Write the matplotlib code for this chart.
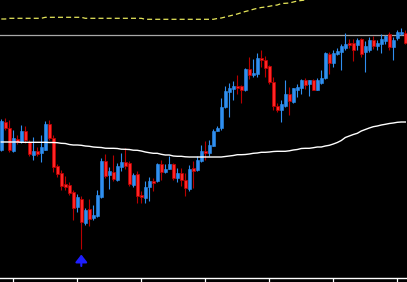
import numpy as np
import matplotlib
matplotlib.use("Agg")
import matplotlib.pyplot as plt

# price bars (arbitrary price units), one per bar, oldest first
opens = [130, 158, 152, 129, 141, 138, 149, 138, 125, 129.5,
         127, 130.5, 156, 142.5, 114, 107.5, 96, 95, 88, 73,
         81.5, 57.5, 71, 62, 64, 83, 119, 105, 108, 100,
         113.5, 118, 117, 95.5, 106, 85.5, 82, 93.5, 99.5, 99,
         116, 108.5, 111.5, 116, 102, 107, 100, 91, 112.5, 110.5,
         119, 129.5, 127, 134.5, 149.5, 152, 173, 188, 191, 194,
         194, 190, 211, 205.5, 206, 222.5, 220, 214.5, 198, 174,
         170, 174, 186, 178, 190.5, 192.5, 200.5, 196.5, 200, 190.5,
         197.5, 202.5, 226.5, 217.5, 226, 228, 232.5, 237, 237, 235.5,
         241.5, 228.5, 230.5, 240.5, 234.5, 236.5, 239.5, 246.5, 233.5, 242.5,
         246, 247.5]
highs = [161, 162, 160, 150, 145, 155, 154, 140, 143, 133,
         145, 159, 160, 145, 116, 110.5, 104, 98, 90, 86,
         84, 72, 81, 75, 90, 122, 126, 113, 125, 117.5,
         127, 132, 119, 107.5, 109, 89, 99, 103, 102, 117,
         120.5, 116, 124.5, 117, 112.5, 112.5, 107, 115, 119, 124.5,
         135, 139, 140, 151, 154, 182, 194, 197, 199.5, 205,
         195.5, 212, 223.5, 221, 227.5, 230, 224, 215.5, 203, 177,
         180, 200.5, 193, 192.5, 196.5, 201.5, 202, 200.5, 201.5, 202,
         210.5, 228.5, 228, 230.5, 232.5, 236, 247, 241.5, 241, 242.5,
         242.5, 239.5, 243.5, 244, 240, 246.5, 245.5, 248.5, 243.5, 250,
         252, 250.5]
lows = [129, 150, 128, 128, 136, 137, 137, 124, 120, 124,
        118, 130, 140, 108, 103, 90, 90, 85, 60.5, 68,
        31, 55.5, 54, 60, 63, 82, 102, 91.5, 99, 99,
        109, 111, 94, 93, 77, 77, 77, 79, 89, 98,
        100.5, 107, 111, 100, 98.5, 94.5, 84.5, 89, 92.5, 109,
        118, 120, 124.5, 134, 149, 150, 172, 163, 180, 186,
        177.5, 189, 201, 203, 203, 213.5, 203, 196.5, 170, 168,
        158.5, 173, 165, 177, 183.5, 186.5, 191.5, 184.5, 190, 190,
        196.5, 201.5, 206, 213.5, 225, 210, 230, 232, 219.5, 230,
        223.5, 208, 228.5, 231.5, 230, 227, 236.5, 230, 220, 240,
        245, 236]
closes = [159, 152, 130, 142, 138, 149, 140, 126, 129.5, 126,
          133, 156, 142.5, 113, 106.5, 94.5, 93, 87, 72.5, 83,
          58, 70.5, 61.5, 65, 85, 119.5, 104.5, 109.5, 101, 114,
          118, 114.5, 96.5, 105.5, 84.5, 83.5, 93.5, 99, 97.5, 116,
          108.5, 111, 116, 102.5, 107, 100.5, 92.5, 111, 109.5, 120.5,
          129.5, 127, 135, 149, 152, 173, 189, 192.5, 194, 192,
          190, 211, 205.5, 207.5, 222.5, 220.5, 212, 198, 174, 170,
          176, 186.5, 179.5, 192, 193.5, 200, 195.5, 200, 190.5, 200,
          202.5, 227.5, 217.5, 227.5, 229, 234, 236.5, 235.5, 230, 240.5,
          226, 234, 240, 234.5, 237.5, 241.5, 244, 233.5, 240.5, 248.5,
          248.5, 237]

# long moving average (white) and upper envelope (yellow dashed)
ma_long = [138, 138, 138, 138, 138, 137.7, 137.7, 137.7, 137.7, 137.7,
           137.7, 137.7, 137.5, 137.5, 137.3, 136.7, 136.5, 135.5, 135, 135,
           134.7, 134, 133.7, 133, 132.7, 132.5, 131.8, 131.7, 131.7, 131.5,
           130.8, 130.7, 130.5, 129.8, 129.7, 129, 128, 127.3, 126.7, 126.7,
           125.7, 125, 125, 124, 123.7, 123.7, 123.2, 123, 123, 123,
           123, 123, 123, 123, 123, 123, 123.5, 124, 124.5, 125.3,
           125.3, 125.5, 126, 126.7, 127, 127.7, 127.7, 128, 128.5, 128.7,
           128.7, 128.7, 129.2, 130, 130.5, 131.5, 131.7, 131.7, 132.3, 133,
           133, 134, 134.7, 136, 137.5, 139.5, 142.5, 144, 145.5, 146.7,
           149, 150.5, 152, 153.3, 154, 155, 155.7, 156.5, 157, 157.7,
           158, 158]
upper_band = [261, 261, 261.7, 261.7, 261.7, 261.7, 261.7, 261.7, 261.7, 261.7,
              261.7, 262.7, 262.7, 262.7, 262.7, 262.7, 262.7, 262.7, 262.7, 262.7,
              262.7, 261.7, 261.7, 261.7, 261.7, 261.7, 261.7, 261.7, 261.7, 261.7,
              261.7, 261.7, 261.7, 261.7, 261.7, 261.7, 260.7, 260.7, 260.7, 260.7,
              260.7, 260.7, 260.7, 260.7, 260.7, 260.7, 260.7, 260.7, 260.7, 260.7,
              260.7, 260.7, 260.7, 260.7, 261.5, 262, 263, 264, 265, 266,
              267.3, 268.5, 269.5, 270.7, 271.7, 272.5, 273, 273.7, 274.5, 275,
              276.5, 276.7, 277, 278, 279, 279.5, 280, 281, 282, 282.5,
              283.5, 284, 285, 286, 286.5, 287, 288, 289, 289.5, 290,
              291, 292, 292.5, 293, 294, 295, 295.5, 296, 297, 298,
              298.5, 299]
level = 245
signal_bar = 20
tick_bars = [3, 19, 35, 51, 67, 83, 99]

BG = "black"
UP = "#2f8ff0"
DOWN_FILL = "#ff2626"
DOWN_EDGE = "#b80000"

opens = np.array(opens)
closes = np.array(closes)
highs = np.array(highs)
lows = np.array(lows)
x = np.arange(len(opens))
up = closes >= opens

fig = plt.figure(figsize=(4.07, 2.82), dpi=100, facecolor=BG)
ax = fig.add_axes([0, 4 / 282, 1, 278 / 282], facecolor=BG)

# wicks
ax.vlines(x[up], lows[up], highs[up], color=UP, lw=0.8, zorder=2)
ax.vlines(x[~up], lows[~up], highs[~up], color=DOWN_EDGE, lw=0.8, zorder=2)

# bodies
body_lo = np.minimum(opens, closes)
body_h = np.maximum(np.abs(closes - opens), 1.0)
ax.bar(x[up], body_h[up], bottom=body_lo[up], width=0.7,
       color=UP, edgecolor=UP, lw=0.4, zorder=3)
ax.bar(x[~up], body_h[~up], bottom=body_lo[~up], width=0.7,
       color=DOWN_FILL, edgecolor=DOWN_EDGE, lw=0.6, zorder=3)

ax.plot(x, ma_long, color="white", lw=1.0, zorder=4)
ax.plot(x, upper_band, color="#e6e65a", lw=0.9, ls=(0, (4, 2.5)), zorder=4)
ax.axhline(level, color="#a8a8a8", lw=0.9, zorder=1)

# buy arrow under the signal bar
ax.annotate("", xy=(signal_bar, lows[signal_bar] - 5.5),
            xytext=(signal_bar, lows[signal_bar] - 17),
            arrowprops=dict(arrowstyle="-|>,head_width=0.35,head_length=0.45",
                            color="#1e1eff", lw=1.5, shrinkA=0, shrinkB=0),
            zorder=5)

ax.set_xlim(-0.325, 101.425)
ax.set_ylim(2, 280)

for side in ["top", "left", "right"]:
    ax.spines[side].set_visible(False)
ax.spines["bottom"].set_color("white")
ax.spines["bottom"].set_linewidth(1.0)
ax.set_xticks(tick_bars)
ax.set_xticklabels([])
ax.tick_params(axis="x", direction="out", length=3.5, width=0.9, color="white")
ax.set_yticks([])

fig.savefig("out.png", dpi=100, facecolor=BG)
